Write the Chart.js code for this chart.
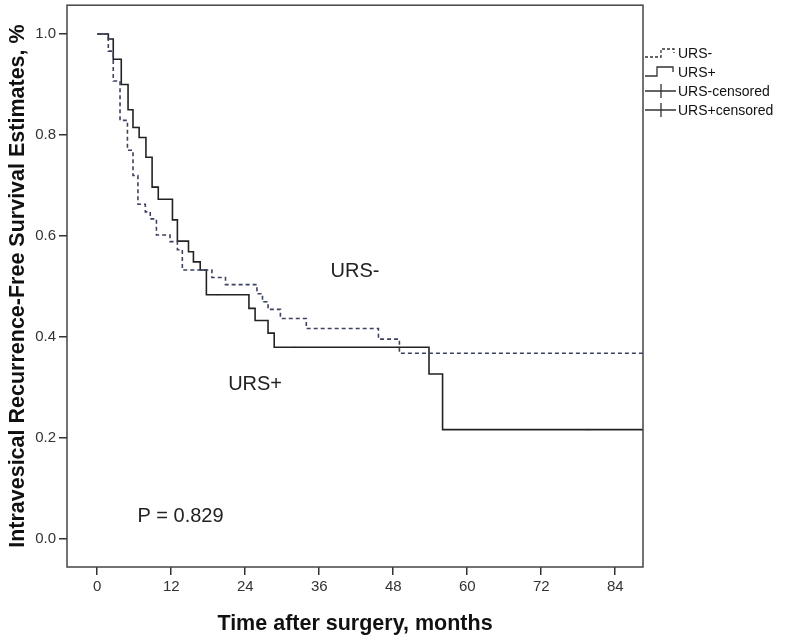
<!DOCTYPE html>
<html>
<head>
<meta charset="utf-8">
<script src="https://cdn.jsdelivr.net/npm/chart.js@4/dist/chart.umd.min.js"></script>
<style>
  html, body { margin: 0; padding: 0; background: #fff; }
  #wrap { width: 787px; height: 637px; }
</style>
</head>
<body>
<div id="wrap"><canvas id="c" width="787" height="637"></canvas></div>
<script>
// ---- data ----
const xTicks = [0, 12, 24, 36, 48, 60, 72, 84];
const yTicks = [0.0, 0.2, 0.4, 0.6, 0.8, 1.0];

const ursMinusTime = [0, 1.8, 2.6, 3.7, 4.9, 5.8, 6.6, 7.8, 8.6, 9.6, 11.8, 13.0, 13.8, 18.6, 20.8, 25.9, 26.8, 27.7, 29.7, 33.9, 45.6, 49.0, 88.5];
const ursMinusSurv = [1.0, 0.966, 0.907, 0.829, 0.77, 0.72, 0.663, 0.648, 0.634, 0.602, 0.589, 0.573, 0.533, 0.518, 0.504, 0.486, 0.47, 0.455, 0.437, 0.417, 0.396, 0.368, 0.368];

const ursPlusTime = [0, 1.8, 2.6, 3.9, 5.0, 5.8, 6.8, 7.9, 8.9, 9.9, 12.2, 13.0, 14.8, 15.6, 16.7, 17.7, 24.6, 25.6, 27.7, 28.7, 53.8, 56.0, 88.5];
const ursPlusSurv = [1.0, 0.99, 0.95, 0.90, 0.85, 0.815, 0.795, 0.756, 0.697, 0.673, 0.632, 0.59, 0.569, 0.549, 0.533, 0.484, 0.457, 0.433, 0.408, 0.38, 0.327, 0.217, 0.217];

const ursMinusCensTime = [27.2];
const ursMinusCensSurv = [0.47];
const ursPlusCensTime = [0.5, 6.3, 9.4, 19.5, 32.0, 48.8, 79.5];
const ursPlusCensSurv = [1.0, 0.815, 0.697, 0.484, 0.38, 0.38, 0.217];

const seriesNames = ['URS-', 'URS+', 'URS-censored', 'URS+censored'];
const xTitle = 'Time after surgery, months';
const yTitle = 'Intravesical Recurrence-Free Survival Estimates, %';
const pText = 'P = 0.829';

const zip = (xs, ys) => xs.map((x, i) => ({ x: x, y: ys[i] }));

const FONT = '"Liberation Sans", Arial, sans-serif';

const boxPlugin = {
  id: 'box',
  afterDatasetsDraw(chart) {
    const { ctx, chartArea: a } = chart;
    ctx.save();
    ctx.strokeStyle = '#444';
    ctx.lineWidth = 1.5;
    ctx.strokeRect(a.left, a.top, a.right - a.left, a.bottom - a.top);
    ctx.restore();
  }
};

const annotPlugin = {
  id: 'annot',
  afterDraw(chart) {
    const { ctx } = chart;
    const xs = chart.scales.x, ys = chart.scales.y;
    ctx.save();
    ctx.fillStyle = '#222';
    ctx.font = '20px ' + FONT;
    ctx.textAlign = 'center';
    ctx.textBaseline = 'middle';
    ctx.fillText('URS-', xs.getPixelForValue(41.8), ys.getPixelForValue(0.530));
    ctx.fillText('URS+', xs.getPixelForValue(25.6), ys.getPixelForValue(0.307));
    ctx.fillText(pText, xs.getPixelForValue(13.5), ys.getPixelForValue(0.044));

    // legend (outside, right)
    ctx.font = '14px ' + FONT;
    ctx.textAlign = 'left';
    ctx.fillStyle = '#111';
    const lx = 645, tx = 678;
    const rows = [53, 72, 91, 110];
    rows.forEach((ry, i) => ctx.fillText(seriesNames[i], tx, ry + 1));
    ctx.strokeStyle = '#333';
    ctx.lineWidth = 1.3;
    // URS- dashed step
    ctx.setLineDash([3, 2]);
    ctx.beginPath();
    ctx.moveTo(lx, rows[0] + 4);
    ctx.lineTo(lx + 16, rows[0] + 4);
    ctx.lineTo(lx + 16, rows[0] - 4);
    ctx.lineTo(lx + 29, rows[0] - 4);
    ctx.lineTo(lx + 29, rows[0]);
    ctx.stroke();
    ctx.setLineDash([]);
    // URS+ solid step
    ctx.beginPath();
    ctx.moveTo(lx, rows[1] + 4);
    ctx.lineTo(lx + 12, rows[1] + 4);
    ctx.lineTo(lx + 12, rows[1] - 5);
    ctx.lineTo(lx + 28, rows[1] - 5);
    ctx.lineTo(lx + 28, rows[1]);
    ctx.stroke();
    // censored crosses
    [rows[2], rows[3]].forEach(ry => {
      ctx.beginPath();
      ctx.moveTo(lx, ry);
      ctx.lineTo(lx + 31, ry);
      ctx.moveTo(lx + 16, ry - 7);
      ctx.lineTo(lx + 16, ry + 7);
      ctx.stroke();
    });
    ctx.restore();
  }
};

new Chart(document.getElementById('c'), {
  type: 'line',
  data: {
    datasets: [
      {
        label: seriesNames[0],
        data: zip(ursMinusTime, ursMinusSurv),
        stepped: 'before',
        borderColor: '#3d4260',
        borderWidth: 1.6,
        borderDash: [4, 3],
        pointRadius: 0,
        fill: false
      },
      {
        label: seriesNames[1],
        data: zip(ursPlusTime, ursPlusSurv),
        stepped: 'before',
        borderColor: '#222',
        borderWidth: 1.6,
        pointRadius: 0,
        fill: false
      },
      {
        label: seriesNames[2],
        data: zip(ursMinusCensTime, ursMinusCensSurv),
        showLine: false,
        pointStyle: 'line',
        rotation: 0,
        pointRadius: 2.5,
        borderColor: 'rgba(90,180,90,0.8)',
        backgroundColor: 'rgba(90,180,90,0.8)',
        borderWidth: 1.2
      },
      {
        label: seriesNames[3],
        data: zip(ursPlusCensTime, ursPlusCensSurv),
        showLine: false,
        pointStyle: 'line',
        rotation: 0,
        pointRadius: 2.5,
        borderColor: 'rgba(90,180,90,0.8)',
        backgroundColor: 'rgba(90,180,90,0.8)',
        borderWidth: 1.2
      }
    ]
  },
  options: {
    responsive: false,
    animation: false,
    layout: { padding: { left: 0, right: 144, top: 2, bottom: 0 } },
    plugins: { legend: { display: false }, tooltip: { enabled: false } },
    scales: {
      x: {
        type: 'linear',
        min: -4.9,
        max: 88.5,
        afterBuildTicks: s => { s.ticks = xTicks.map(v => ({ value: v })); },
        afterFit: s => { s.height = 70; s.paddingLeft = 0; s.paddingRight = 0; },
        grid: { display: true, drawOnChartArea: false, drawTicks: true, tickLength: 8, color: '#333', lineWidth: 1.5 },
        border: { display: false },
        ticks: { color: '#333', font: { family: FONT, size: 15 }, padding: 3, maxRotation: 0, autoSkip: false },
        title: { display: true, text: xTitle, color: '#111', font: { family: FONT, size: 21.5, weight: 'bold' }, padding: { top: 0, bottom: 0 } }
      },
      y: {
        type: 'linear',
        min: -0.055,
        max: 1.057,
        afterBuildTicks: s => { s.ticks = yTicks.map(v => ({ value: v })); },
        afterFit: s => { s.width = 67; s.paddingTop = 0; s.paddingBottom = 0; },
        grid: { display: true, drawOnChartArea: false, drawTicks: true, tickLength: 8, color: '#333', lineWidth: 1.5 },
        border: { display: false },
        ticks: { color: '#333', font: { family: FONT, size: 15 }, padding: 3, callback: v => Number(v).toFixed(1), autoSkip: false },
        title: { display: true, text: yTitle, color: '#111', font: { family: FONT, size: 21.5, weight: 'bold' }, padding: { top: 5, bottom: 0 } }
      }
    }
  },
  plugins: [boxPlugin, annotPlugin]
});
</script>
</body>
</html>
